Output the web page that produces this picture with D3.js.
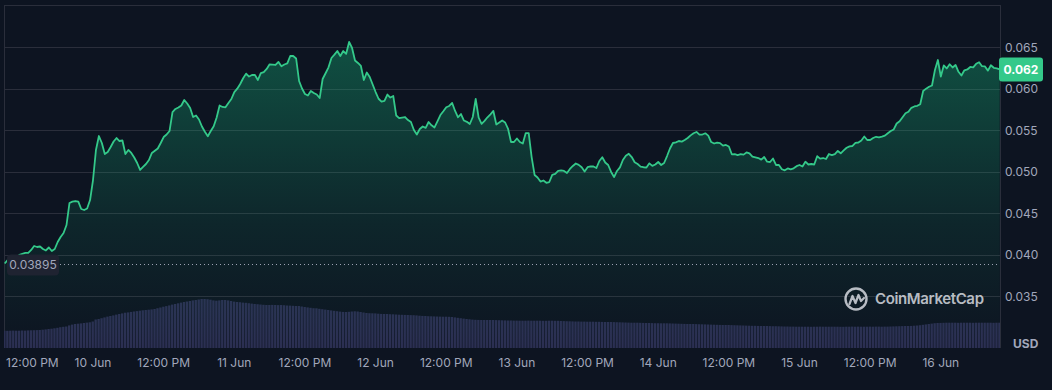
<!DOCTYPE html>
<html lang="en-US">
  <head>
    <meta charset="UTF-8">
    <title>Price chart</title>
    <script src="https://cdn.jsdelivr.net/npm/d3@7/dist/d3.min.js"></script>
    <style>
        html, body { margin: 0; padding: 0; background: #0d1421; }
        text { font-family: Inter, "Noto Sans", sans-serif; }
    </style>
</head>
  <body>
    <div id="chart"></div>

    <script type="text/javascript">
        // half-hourly prices (USD) from 9 Jun 09:00 to 16 Jun 10:00
        const startTime = new Date(Date.UTC(2024, 5, 9, 9, 0));
        const endTime = new Date(Date.UTC(2024, 5, 16, 10, 0));
        const stepMinutes = 30;
        const openPrice = 0.03895;

        const prices = [
          0.03895,0.03937,0.03962,0.03986,0.03974,0.03998,0.04010,0.04022,0.04022,0.04058,
          0.04106,0.04094,0.04100,0.04070,0.04052,0.04088,0.04046,0.04070,0.04154,0.04215,
          0.04263,0.04359,0.04624,0.04640,0.04648,0.04640,0.04552,0.04540,0.04558,0.04660,
          0.04901,0.05263,0.05431,0.05347,0.05214,0.05239,0.05299,0.05365,0.05407,0.05371,
          0.05377,0.05214,0.05263,0.05227,0.05172,0.05106,0.05022,0.05058,0.05094,0.05142,
          0.05227,0.05254,0.05281,0.05347,0.05419,0.05449,0.05492,0.05720,0.05757,0.05775,
          0.05799,0.05865,0.05823,0.05769,0.05660,0.05678,0.05630,0.05546,0.05483,0.05428,
          0.05492,0.05549,0.05654,0.05799,0.05781,0.05777,0.05829,0.05877,0.05961,0.06001,
          0.06058,0.06127,0.06183,0.06148,0.06166,0.06166,0.06106,0.06190,0.06202,0.06239,
          0.06295,0.06292,0.06287,0.06323,0.06271,0.06293,0.06306,0.06395,0.06395,0.06365,
          0.06094,0.06004,0.05937,0.05919,0.05974,0.05949,0.05931,0.05889,0.06118,0.06187,
          0.06259,0.06371,0.06411,0.06455,0.06395,0.06455,0.06422,0.06564,0.06492,0.06341,
          0.06311,0.06275,0.06106,0.06196,0.06142,0.06052,0.05961,0.05880,0.05845,0.05855,
          0.05931,0.05895,0.05913,0.05678,0.05646,0.05654,0.05660,0.05624,0.05600,0.05504,
          0.05449,0.05516,0.05546,0.05530,0.05600,0.05560,0.05534,0.05608,0.05684,0.05729,
          0.05778,0.05793,0.05829,0.05733,0.05657,0.05696,0.05618,0.05602,0.05576,0.05660,
          0.05877,0.05654,0.05578,0.05614,0.05657,0.05693,0.05733,0.05570,0.05594,0.05618,
          0.05594,0.05516,0.05359,0.05359,0.05401,0.05359,0.05341,0.05467,0.05465,0.05178,
          0.04962,0.04931,0.04882,0.04895,0.04868,0.04877,0.04964,0.04974,0.05012,0.05016,
          0.05010,0.04986,0.05034,0.05070,0.05100,0.05084,0.05055,0.05004,0.05055,0.05065,
          0.05064,0.05046,0.05130,0.05175,0.05112,0.05082,0.04998,0.04937,0.05010,0.05054,
          0.05142,0.05194,0.05217,0.05178,0.05115,0.05094,0.05063,0.05055,0.05052,0.05102,
          0.05072,0.05088,0.05118,0.05082,0.05106,0.05190,0.05281,0.05347,0.05355,0.05371,
          0.05364,0.05383,0.05407,0.05439,0.05464,0.05480,0.05447,0.05449,0.05464,0.05436,
          0.05359,0.05341,0.05352,0.05345,0.05316,0.05323,0.05305,0.05211,0.05212,0.05202,
          0.05212,0.05207,0.05233,0.05221,0.05184,0.05175,0.05166,0.05147,0.05178,0.05122,
          0.05118,0.05160,0.05082,0.05082,0.05031,0.05018,0.05040,0.05029,0.05042,0.05068,
          0.05082,0.05064,0.05122,0.05088,0.05094,0.05088,0.05188,0.05159,0.05166,0.05154,
          0.05214,0.05202,0.05214,0.05251,0.05223,0.05257,0.05290,0.05307,0.05311,0.05349,
          0.05353,0.05378,0.05425,0.05383,0.05383,0.05407,0.05422,0.05416,0.05424,0.05436,
          0.05465,0.05492,0.05510,0.05582,0.05608,0.05658,0.05706,0.05724,0.05771,0.05787,
          0.05795,0.05814,0.05974,0.06002,0.06025,0.06040,0.06227,0.06347,0.06148,0.06281,
          0.06245,0.06296,0.06257,0.06287,0.06205,0.06160,0.06223,0.06233,0.06263,0.06259,
          0.06301,0.06320,0.06272,0.06269,0.06219,0.06283,0.06253,0.06245,0.06233
        ];

        // 24h volume (USD millions) at the same timestamps
        const volumes = [
          17.3,17.2,17.3,17.4,17.3,17.3,17.5,17.4,17.6,17.7,
          17.8,17.9,18.0,18.3,18.6,19.0,19.3,19.7,20.2,20.8,
          21.2,21.5,22.6,23.4,24.0,24.3,24.6,25.0,25.4,25.7,
          26.5,28.5,29.0,29.8,30.6,31.4,32.0,32.6,33.4,34.0,
          34.6,35.3,35.6,36.1,36.5,36.9,37.3,37.7,38.0,38.3,
          38.6,39.0,39.8,40.5,41.3,41.9,42.6,43.4,44.0,44.7,
          45.4,46.0,46.5,47.0,47.6,48.0,48.5,49.0,49.0,48.8,
          48.3,47.6,47.3,47.6,48.0,48.0,47.6,47.0,46.4,46.0,
          45.8,45.4,45.2,44.8,44.4,44.0,43.8,43.5,43.2,43.0,
          43.0,43.1,43.0,42.9,43.0,42.8,42.5,42.4,42.2,42.0,
          42.0,41.5,41.0,40.6,40.2,39.8,39.7,39.2,38.8,38.4,
          38.0,37.6,37.2,36.8,36.4,36.1,36.0,36.2,36.5,36.7,
          36.5,36.0,35.5,35.0,34.8,34.7,34.6,34.3,34.1,34.0,
          34.0,33.8,33.7,33.5,33.3,33.2,33.1,33.0,32.9,32.8,
          32.6,32.3,32.1,32.0,31.8,31.7,31.6,31.5,31.4,31.3,
          31.3,31.2,31.0,30.6,30.2,29.8,29.4,29.0,28.7,28.4,
          28.2,28.1,28.0,28.0,28.0,28.0,28.0,27.9,27.8,27.7,
          27.6,27.5,27.5,27.4,27.4,27.3,27.3,27.3,27.4,27.3,
          27.3,27.3,27.3,27.2,27.2,27.3,27.3,27.2,27.2,27.0,
          26.9,26.8,26.7,26.6,26.5,26.5,26.4,26.4,26.3,26.3,
          26.3,26.2,26.2,26.1,26.0,26.0,26.0,25.9,25.8,25.7,
          25.6,25.5,25.4,25.3,25.3,25.3,25.2,25.1,25.0,25.0,
          24.9,24.8,24.8,24.7,24.7,24.7,24.6,24.5,24.4,24.3,
          24.2,24.1,24.0,24.0,24.0,23.9,23.8,23.7,23.6,23.5,
          23.4,23.3,23.2,23.1,23.0,23.0,23.0,22.9,22.8,22.7,
          22.6,22.5,22.4,22.3,22.2,22.2,22.1,22.0,22.0,22.0,
          21.9,21.8,21.8,21.7,21.6,21.5,21.5,21.4,21.4,21.3,
          21.3,21.3,21.3,21.3,21.2,21.3,21.3,21.4,21.3,21.3,
          21.3,21.3,21.3,21.3,21.2,21.2,21.3,21.3,21.4,21.3,
          21.4,21.3,21.3,21.3,21.4,21.3,21.4,21.4,21.3,21.4,
          21.4,21.5,21.6,21.7,21.8,21.9,22.0,22.0,22.1,22.3,
          22.5,22.8,23.2,23.6,24.0,24.4,24.8,25.0,25.1,25.2,
          25.3,25.3,25.3,25.3,25.2,25.3,25.3,25.3,25.3,25.2,
          25.3,25.3,25.3,25.3,25.3,25.3,25.2,25.3,25.3
        ];

        const yTicks = [0.035, 0.040, 0.045, 0.050, 0.055, 0.060, 0.065];

        let width = 1052;
        let height = 390;
        let plot = {left: 4, top: 5, right: 1000, bottom: 348};

        let data = prices.map((p, i) => ({
            t: new Date(startTime.getTime() + i * stepMinutes * 60000),
            price: p,
            vol: volumes[i] || 0
        }));

        var svg = d3.select("#chart")
                    .append("svg")
                    .attr("width", width)
                    .attr("height", height)
                    .style("display", "block")
                    .style("background", "#0d1421");

        var x = d3.scaleUtc()
                  .domain([startTime, endTime])
                  .range([4.7, 999.7]);

        var y = d3.scaleLinear()
                  .domain([0.035, 0.065])
                  .range([296.3, 47.3]);

        var yVol = d3.scaleLinear()
                     .domain([0, 60])
                     .range([plot.bottom, plot.bottom - 60]);

        const grey = "#a1a7bb";
        const green = "#34c98a";

        // gradient under the line
        const defs = svg.append("defs");
        const grad = defs.append("linearGradient")
            .attr("id", "areaFill")
            .attr("gradientUnits", "userSpaceOnUse")
            .attr("x1", 0).attr("x2", 0)
            .attr("y1", 40).attr("y2", plot.bottom);
        grad.append("stop").attr("offset", 0).attr("stop-color", "#16c784").attr("stop-opacity", 0.34);
        grad.append("stop").attr("offset", 0.6).attr("stop-color", "#16c784").attr("stop-opacity", 0.1);
        grad.append("stop").attr("offset", 1).attr("stop-color", "#16c784").attr("stop-opacity", 0.0);

        defs.append("clipPath").attr("id", "plotClip")
            .append("rect")
            .attr("x", plot.left).attr("y", plot.top)
            .attr("width", plot.right - plot.left).attr("height", plot.bottom - plot.top);

        // frame and grid
        svg.append("line")
           .attr("x1", plot.left).attr("x2", plot.right)
           .attr("y1", plot.top + 0.5).attr("y2", plot.top + 0.5)
           .attr("stroke", "#2a2e3b");
        svg.append("line")
           .attr("x1", plot.left + 0.5).attr("x2", plot.left + 0.5)
           .attr("y1", plot.top).attr("y2", plot.bottom)
           .attr("stroke", "#2a2e3b");
        svg.append("line")
           .attr("x1", plot.right + 0.5).attr("x2", plot.right + 0.5)
           .attr("y1", plot.top).attr("y2", plot.bottom)
           .attr("stroke", "#2a2e3b");

        svg.append("g")
           .selectAll("line")
           .data(yTicks)
           .enter()
           .append("line")
              .attr("x1", plot.left)
              .attr("x2", plot.right)
              .attr("y1", d => Math.round(y(d)) + 0.5)
              .attr("y2", d => Math.round(y(d)) + 0.5)
              .attr("stroke", "#2a2e3b");

        // volume bars
        let barW = x(data[1].t) - x(data[0].t);
        svg.append("g")
           .attr("clip-path", "url(#plotClip)")
           .selectAll("rect")
           .data(data)
           .enter()
           .append("rect")
              .attr("x", d => x(d.t) - barW / 2)
              .attr("y", d => yVol(d.vol))
              .attr("width", barW - 0.6)
              .attr("height", d => plot.bottom - yVol(d.vol))
              .attr("fill", "#2b2f52");

        // price area + line
        const area = d3.area()
            .x(d => x(d.t))
            .y0(plot.bottom)
            .y1(d => y(d.price));

        const line = d3.line()
            .x(d => x(d.t))
            .y(d => y(d.price));

        const chartG = svg.append("g").attr("clip-path", "url(#plotClip)");
        chartG.append("path")
              .datum(data)
              .attr("d", area)
              .attr("fill", "url(#areaFill)");
        chartG.append("path")
              .datum(data)
              .attr("d", line)
              .attr("fill", "none")
              .attr("stroke", green)
              .attr("stroke-width", 1.8)
              .attr("stroke-linejoin", "round");

        // open price reference
        let yOpen = Math.round(y(openPrice)) + 0.5;
        svg.append("line")
           .attr("x1", 60).attr("x2", plot.right - 2)
           .attr("y1", yOpen).attr("y2", yOpen)
           .attr("stroke", "#9ca2b3")
           .attr("stroke-width", 1)
           .attr("stroke-dasharray", "1,3");
        svg.append("rect")
           .attr("x", 7).attr("y", yOpen - 10)
           .attr("width", 52).attr("height", 21)
           .attr("rx", 4)
           .attr("fill", "#1f2331");
        svg.append("text")
           .attr("x", 33).attr("y", yOpen + 1)
           .attr("text-anchor", "middle")
           .attr("dominant-baseline", "middle")
           .attr("fill", grey)
           .style("font-size", "12px")
           .text(d3.format(".5f")(openPrice));

        // right axis
        const yAxisG = svg.append("g")
            .attr("transform", "translate(" + (plot.right + 5) + ",0)")
            .call(d3.axisRight(y).tickValues(yTicks).tickSize(0).tickPadding(0).tickFormat(d3.format(".3f")));
        yAxisG.select(".domain").remove();
        yAxisG.selectAll("text")
              .attr("fill", grey)
              .style("font-size", "12px")
              .style("font-family", "Inter, sans-serif");

        // last price tag
        let last = data[data.length - 1];
        let yLast = y(last.price);
        svg.append("rect")
           .attr("x", plot.right - 1).attr("y", yLast - 12)
           .attr("width", 44).attr("height", 24)
           .attr("rx", 3)
           .attr("fill", green);
        svg.append("text")
           .attr("x", plot.right + 21).attr("y", yLast + 1)
           .attr("text-anchor", "middle")
           .attr("dominant-baseline", "middle")
           .attr("fill", "#ffffff")
           .style("font-size", "12px")
           .style("font-weight", "700")
           .text(d3.format(".3f")(last.price));

        svg.append("text")
           .attr("x", 1013).attr("y", 345)
           .attr("dominant-baseline", "middle")
           .attr("fill", grey)
           .style("font-size", "12px")
           .style("font-weight", "700")
           .text("USD");

        // time axis, every 12 hours
        const xTicks = d3.utcHour.every(12).range(startTime, endTime);
        const fmtDay = d3.utcFormat("%-d %b");
        const fmtHour = d3.utcFormat("%-I:%M %p");
        const xAxisG = svg.append("g");
        xAxisG.selectAll("text")
              .data(xTicks)
              .enter()
              .append("text")
                 .attr("x", d => x(d))
                 .attr("y", 364)
                 .attr("text-anchor", "middle")
                 .attr("dominant-baseline", "middle")
                 .attr("fill", grey)
                 .style("font-size", "12px")
                 .text(d => d.getUTCHours() === 0 ? fmtDay(d) : fmtHour(d))
                 .each(function() {
                    // keep the first label inside the chart
                    let bb = this.getBBox();
                    if (bb.x < 6) this.setAttribute("x", +this.getAttribute("x") + (6 - bb.x));
                 });

        // watermark
        const wm = svg.append("g")
            .attr("transform", "translate(856,299)")
            .attr("opacity", 0.85);
        wm.append("circle")
          .attr("r", 10.5)
          .attr("fill", "none")
          .attr("stroke", "#d5d8df")
          .attr("stroke-width", 2.4);
        wm.append("path")
          .attr("d", "M-6.5,5 L-3.5,-3 L-0.5,4 L2.5,-4 L5,2 L8,-1")
          .attr("fill", "none")
          .attr("stroke", "#d5d8df")
          .attr("stroke-width", 2.2)
          .attr("stroke-linejoin", "round")
          .attr("stroke-linecap", "round");
        wm.append("text")
          .attr("x", 19).attr("y", 1)
          .attr("dominant-baseline", "middle")
          .attr("fill", "#d5d8df")
          .style("font-size", "15px")
          .style("font-weight", "600")
          .attr("textLength", 109)
          .text("CoinMarketCap");
    </script>
  </body>
</html>
